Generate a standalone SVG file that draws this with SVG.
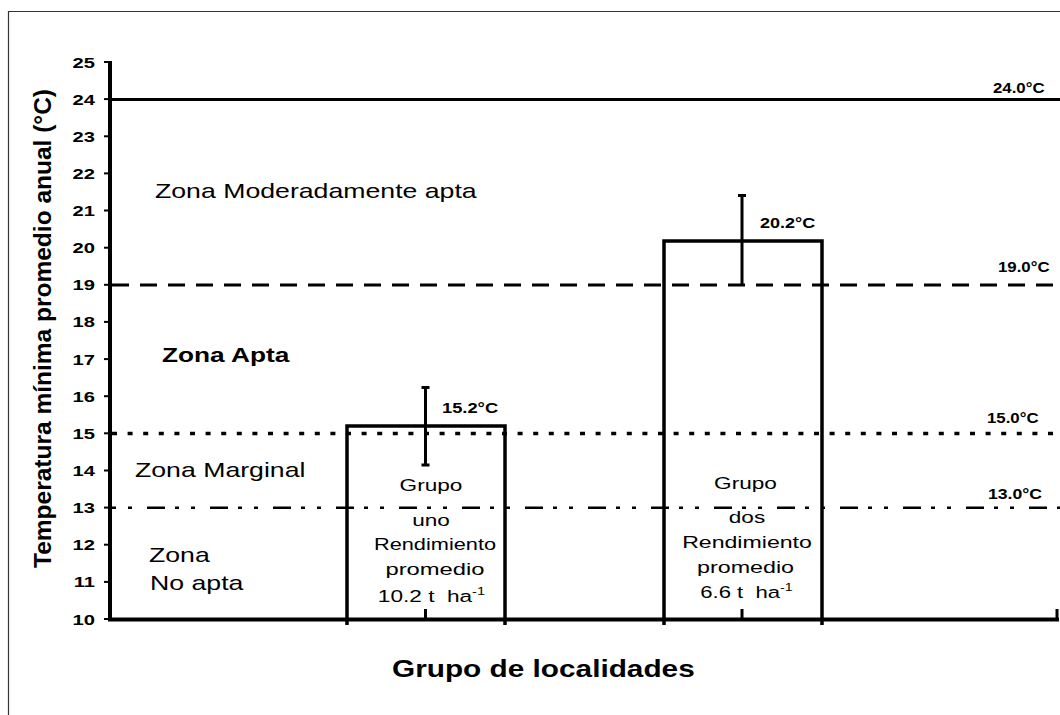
<svg xmlns="http://www.w3.org/2000/svg" width="1060" height="715" viewBox="0 0 1060 715">
<style>
text{font-family:"Liberation Sans",Arial,Helvetica,sans-serif;fill:#000}
.b{font-weight:bold}
.zone{font-size:21px}
.tick{font-size:15.5px;font-weight:bold;text-anchor:end}
.rl{font-size:14px;font-weight:bold}
.grp{font-size:17px;text-anchor:middle}
.ln{stroke:#000;fill:none}
</style>
<rect width="1060" height="715" fill="#fff"/>
<!-- frame -->
<path d="M8.5 715 V11.5 H1060" stroke="#333" stroke-width="1.2" fill="none"/>

<!-- reference lines -->
<g id="thresholds" class="ln">
  <line x1="110" y1="99.5" x2="1060" y2="99.5" stroke-width="3"/>
  <line x1="112" y1="285" x2="1060" y2="285" stroke-width="3" stroke-dasharray="17 11"/>
  <line x1="112" y1="433.5" x2="1060" y2="433.5" stroke-width="3.5" stroke-dasharray="5 10.6"/>
  <line x1="112" y1="507.8" x2="1060" y2="507.8" stroke-width="2.5" stroke-dasharray="4 12 4 15 18 10"/>
</g>

<!-- axes -->
<g id="axes" class="ln">
  <line x1="110" y1="61" x2="110" y2="621" stroke-width="4"/>
  <line x1="108" y1="619.5" x2="1059" y2="619.5" stroke-width="4"/>
  <g stroke-width="2">
    <line x1="104" y1="62" x2="110" y2="62"/>
    <line x1="104" y1="99.1" x2="110" y2="99.1"/>
    <line x1="104" y1="136.3" x2="110" y2="136.3"/>
    <line x1="104" y1="173.4" x2="110" y2="173.4"/>
    <line x1="104" y1="210.5" x2="110" y2="210.5"/>
    <line x1="104" y1="247.7" x2="110" y2="247.7"/>
    <line x1="104" y1="284.8" x2="110" y2="284.8"/>
    <line x1="104" y1="321.9" x2="110" y2="321.9"/>
    <line x1="104" y1="359.1" x2="110" y2="359.1"/>
    <line x1="104" y1="396.2" x2="110" y2="396.2"/>
    <line x1="104" y1="433.3" x2="110" y2="433.3"/>
    <line x1="104" y1="470.5" x2="110" y2="470.5"/>
    <line x1="104" y1="507.6" x2="110" y2="507.6"/>
    <line x1="104" y1="544.7" x2="110" y2="544.7"/>
    <line x1="104" y1="581.9" x2="110" y2="581.9"/>
    <line x1="104" y1="619" x2="110" y2="619"/>
  </g>
  <g stroke-width="3">
    <line x1="425.5" y1="609" x2="425.5" y2="619"/>
    <line x1="742" y1="609" x2="742" y2="619"/>
    <line x1="1057" y1="609" x2="1057" y2="619"/>
  </g>
</g>

<!-- tick labels -->
<g id="ticklabels">
  <text class="tick" transform="translate(95,67.5) scale(1.3,1)">25</text>
  <text class="tick" transform="translate(95,104.6) scale(1.3,1)">24</text>
  <text class="tick" transform="translate(95,141.8) scale(1.3,1)">23</text>
  <text class="tick" transform="translate(95,178.9) scale(1.3,1)">22</text>
  <text class="tick" transform="translate(95,216) scale(1.3,1)">21</text>
  <text class="tick" transform="translate(95,253.2) scale(1.3,1)">20</text>
  <text class="tick" transform="translate(95,290.3) scale(1.3,1)">19</text>
  <text class="tick" transform="translate(95,327.4) scale(1.3,1)">18</text>
  <text class="tick" transform="translate(95,364.6) scale(1.3,1)">17</text>
  <text class="tick" transform="translate(95,401.7) scale(1.3,1)">16</text>
  <text class="tick" transform="translate(95,438.8) scale(1.3,1)">15</text>
  <text class="tick" transform="translate(95,476) scale(1.3,1)">14</text>
  <text class="tick" transform="translate(95,513.1) scale(1.3,1)">13</text>
  <text class="tick" transform="translate(95,550.2) scale(1.3,1)">12</text>
  <text class="tick" transform="translate(95,587.4) scale(1.3,1)">11</text>
  <text class="tick" transform="translate(95,624.5) scale(1.3,1)">10</text>
</g>

<!-- axis titles -->
<text id="ytitle" class="b" font-size="24.5" text-anchor="middle" transform="translate(51,328.5) rotate(-90)">Temperatura mínima promedio anual (°C)</text>
<text id="xtitle" class="b" font-size="23" transform="translate(392,677) scale(1.295,1)">Grupo de localidades</text>

<!-- zone labels -->
<g id="zones">
  <text class="zone" transform="translate(155,198) scale(1.27,1)">Zona Moderadamente apta</text>
  <text class="zone b" transform="translate(162,362) scale(1.25,1)">Zona Apta</text>
  <text class="zone" transform="translate(135,477) scale(1.27,1)">Zona Marginal</text>
  <text class="zone" transform="translate(149,562) scale(1.27,1)">Zona</text>
  <text class="zone" transform="translate(150,590) scale(1.27,1)">No apta</text>
</g>

<!-- threshold labels -->
<g id="thresholdlabels">
  <text class="rl" transform="translate(993,93) scale(1.2,1)">24.0°C</text>
  <text class="rl" transform="translate(998,272) scale(1.2,1)">19.0°C</text>
  <text class="rl" transform="translate(987,423) scale(1.2,1)">15.0°C</text>
  <text class="rl" transform="translate(988,499) scale(1.26,1)">13.0°C</text>
</g>

<!-- bar group 1 -->
<g id="grupo-uno">
  <path class="ln" d="M347 625 V426 H505 V625" stroke-width="3.5" stroke-linejoin="miter"/>
  <path class="ln" d="M425.5 387.5 V465 M421.5 387.5 H429.5 M421.5 465 H429.5" stroke-width="3"/>
  <text class="b" font-size="15" transform="translate(442,413) scale(1.22,1)">15.2°C</text>
  <text class="grp" transform="translate(431,490.5) scale(1.33,1)">Grupo</text>
  <text class="grp" transform="translate(431,526) scale(1.33,1)">uno</text>
  <text class="grp" transform="translate(435,550) scale(1.28,1)">Rendimiento</text>
  <text class="grp" transform="translate(435,575) scale(1.4,1)">promedio</text>
  <text class="grp" transform="translate(431.5,602) scale(1.33,1)">10.2 t&#160; ha<tspan font-size="11" dy="-7">-1</tspan></text>
</g>

<!-- bar group 2 -->
<g id="grupo-dos">
  <path class="ln" d="M664 625 V241 H822 V625" stroke-width="3.5" stroke-linejoin="miter"/>
  <path class="ln" d="M742 195.5 V285 M738 195.5 H746" stroke-width="3"/>
  <text class="b" font-size="15" transform="translate(760,228) scale(1.2,1)">20.2°C</text>
  <text class="grp" transform="translate(745.5,489) scale(1.33,1)">Grupo</text>
  <text class="grp" transform="translate(747,523) scale(1.33,1)">dos</text>
  <text class="grp" transform="translate(747,548) scale(1.36,1)">Rendimiento</text>
  <text class="grp" transform="translate(745.5,573) scale(1.37,1)">promedio</text>
  <text class="grp" transform="translate(746.5,598) scale(1.3,1)">6.6 t&#160; ha<tspan font-size="11" dy="-7">-1</tspan></text>
</g>
</svg>
